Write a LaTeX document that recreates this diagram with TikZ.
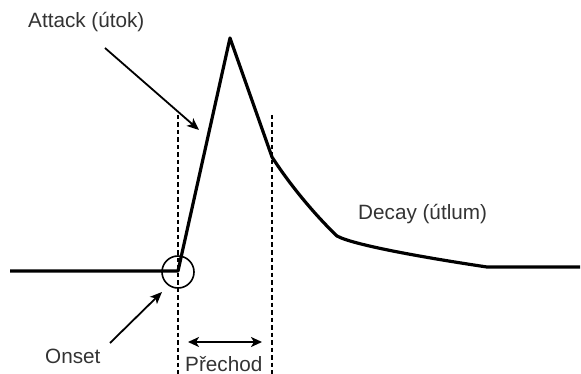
\documentclass[tikz,border=0pt]{standalone}
\usepackage{fontspec}
\setmainfont{Liberation Sans}
\usetikzlibrary{arrows.meta, positioning}

\begin{document}
\begin{tikzpicture}[
  x=1pt, y=-1pt,
  caption/.style={font=\fontsize{20.7}{24}\selectfont, text=black!80, inner sep=0pt, anchor=base west},
  signal/.style={line width=3.2pt, line join=round},
  guide/.style={line width=1.8pt, dash pattern=on 4.5pt off 3pt},
  ring/.style={circle, draw, line width=1.6pt, minimum size=32pt, inner sep=0pt},
  pointer/.style={-{Stealth[length=12pt, width=10pt, inset=3pt]}, line width=1.8pt},
  span/.style={{Stealth[length=11pt, width=10pt, inset=3pt]}-{Stealth[length=11pt, width=10pt, inset=3pt]}, line width=1.8pt}
]
  \useasboundingbox (0,0) rectangle (581,374);

  % envelope points
  \coordinate (start) at (10,271);
  \coordinate (onset) at (178,271);
  \coordinate (peak) at (230,38);
  \coordinate (knee) at (272,157);
  \coordinate (bend) at (337,236);
  \coordinate (floor) at (487,267);
  \coordinate (stop) at (580,267);

  \draw[signal] (start) -- (onset) -- (peak) -- (knee)
    .. controls (290,185) and (315,215) .. (bend)
    .. controls (355,246) and (440,260) .. (floor) -- (stop);

  % guides
  \coordinate (guideAtop) at (178,115);
  \coordinate (guideAbot) at (178,374);
  \coordinate (guideBtop) at (272,115);
  \coordinate (guideBbot) at (272,374);
  \draw[guide] (guideAtop) -- (guideAbot);
  \draw[guide] (guideBtop) -- (guideBbot);

  \node[ring] (onsetring) at (178,272) {};

  % labels
  \node[caption] (attack) at (28,28) {Attack (útok)};
  \node[caption] (decay) at (358,220) {Decay (útlum)};
  \node[caption] (onsetlabel) at (45,363) {Onset};
  \node[caption] (prechod) at (185,371) {Přechod};

  % pointers
  \coordinate (attackfrom) at (105,48);
  \coordinate (attackto) at (199,130);
  \coordinate (onsetfrom) at (110,343);
  \coordinate (onsetto) at (162,292);
  \coordinate (spanleft) at (188,342);
  \coordinate (spanright) at (262,342);
  \draw[pointer] (attackfrom) -- (attackto);
  \draw[pointer] (onsetfrom) -- (onsetto);
  \draw[span] (spanleft) -- (spanright);
\end{tikzpicture}
\end{document}
